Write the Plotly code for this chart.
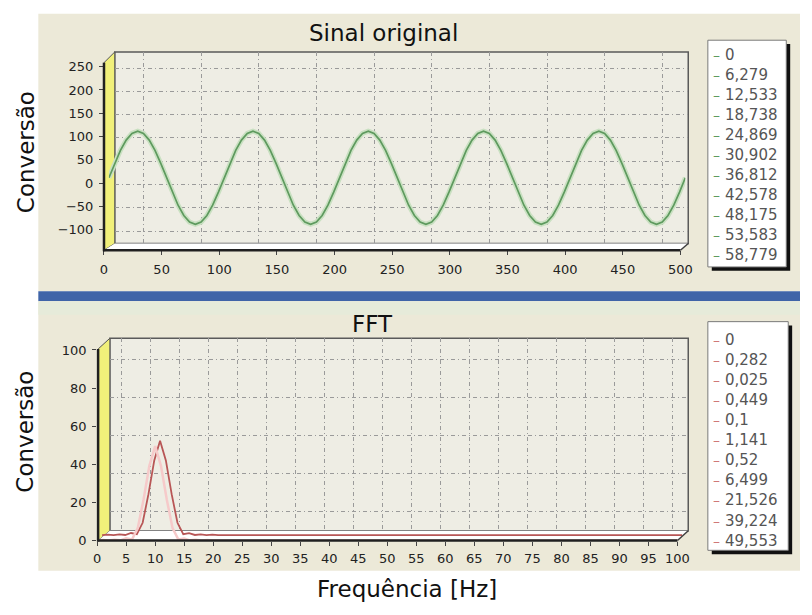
import plotly.graph_objects as go

# ---------------- data ----------------
sample_index = list(range(0, 501, 5))
signal_values = [
    0, 30.9, 58.8, 80.9, 95.1, 100, 95.1, 80.9, 58.8, 30.9,
    0, -30.9, -58.8, -80.9, -95.1, -100, -95.1, -80.9, -58.8, -30.9,
    0, 30.9, 58.8, 80.9, 95.1, 100, 95.1, 80.9, 58.8, 30.9,
    0, -30.9, -58.8, -80.9, -95.1, -100, -95.1, -80.9, -58.8, -30.9,
    0, 30.9, 58.8, 80.9, 95.1, 100, 95.1, 80.9, 58.8, 30.9,
    0, -30.9, -58.8, -80.9, -95.1, -100, -95.1, -80.9, -58.8, -30.9,
    0, 30.9, 58.8, 80.9, 95.1, 100, 95.1, 80.9, 58.8, 30.9,
    0, -30.9, -58.8, -80.9, -95.1, -100, -95.1, -80.9, -58.8, -30.9,
    0, 30.9, 58.8, 80.9, 95.1, 100, 95.1, 80.9, 58.8, 30.9,
    0, -30.9, -58.8, -80.9, -95.1, -100, -95.1, -80.9, -58.8, -30.9,
    0,
]

freq_hz = list(range(0, 101))
fft_values = [
    0, 0.282, 0.025, 0.449, 0.1, 1.141, 0.52, 6.499, 21.526, 39.224,
    49.553, 39.2, 21.5, 6.5, 0.5, 1.1, 0.1, 0.4, 0.0, 0.3,
    0, 0, 0, 0, 0, 0, 0, 0, 0, 0,
    0, 0, 0, 0, 0, 0, 0, 0, 0, 0,
    0, 0, 0, 0, 0, 0, 0, 0, 0, 0,
    0, 0, 0, 0, 0, 0, 0, 0, 0, 0,
    0, 0, 0, 0, 0, 0, 0, 0, 0, 0,
    0, 0, 0, 0, 0, 0, 0, 0, 0, 0,
    0, 0, 0, 0, 0, 0, 0, 0, 0, 0,
    0, 0, 0, 0, 0, 0, 0, 0, 0, 0,
    0,
]

legend_top = ["0", "6,279", "12,533", "18,738", "24,869", "30,902",
              "36,812", "42,578", "48,175", "53,583", "58,779"]
legend_bottom = ["0", "0,282", "0,025", "0,449", "0,1", "1,141",
                 "0,52", "6,499", "21,526", "39,224", "49,553"]

top_x_ticks = [0, 50, 100, 150, 200, 250, 300, 350, 400, 450, 500]
top_y_ticks = [-100, -50, 0, 50, 100, 150, 200, 250]
bot_x_ticks = [0, 5, 10, 15, 20, 25, 30, 35, 40, 45, 50, 55, 60, 65, 70, 75, 80, 85, 90, 95, 100]
bot_y_ticks = [0, 20, 40, 60, 80, 100]

title_top = "Sinal original"
title_bottom = "FFT"
y_title = "Conversão"
x_title = "Frequência [Hz]"

# ---------------- layout helpers ----------------
W, H = 812, 615
FONT = "DejaVu Sans"
BEIGE = "#ECE9D8"
WALL = "#EEEDE4"
YELLOW = "#F1F07A"
GREEN = "#5E9A5E"
GREEN_LIGHT = "#C9E0C1"
RED = "#B85656"
PINK = "#F6CACA"
GRID = "#9A9A9A"


def px(x):
    return x / W


def py(y):
    return 1 - y / H


def dom_x(a, b):
    return [px(a), px(b)]


def dom_y(top, bottom):
    return [py(bottom), py(top)]


def poly(points):
    return "M " + " L ".join(f"{px(x):.5f},{py(y):.5f}" for x, y in points) + " Z"


fig = go.Figure()

# top panel: back (x,y), mid/data (x2,y2), front (x3,y3)
fig.add_trace(go.Scatter(x=sample_index, y=signal_values, mode="lines",
                         line=dict(color=GREEN_LIGHT, width=5),
                         xaxis="x2", yaxis="y2", hoverinfo="skip", showlegend=False))
fig.add_trace(go.Scatter(x=sample_index, y=signal_values, mode="lines",
                         line=dict(color=GREEN, width=1.7),
                         xaxis="x2", yaxis="y2", showlegend=False))
# bottom panel: back (x4,y4), mid/data (x5,y5), front (x6,y6)
fig.add_trace(go.Scatter(x=freq_hz, y=fft_values, mode="lines",
                         line=dict(color=PINK, width=2.5),
                         xaxis="x6", yaxis="y6", hoverinfo="skip", showlegend=False))
fig.add_trace(go.Scatter(x=freq_hz, y=fft_values, mode="lines",
                         line=dict(color=RED, width=1.8),
                         xaxis="x5", yaxis="y5", showlegend=False))
# invisible traces so the grid / label axes exist
for xa, ya in (("x", "y"), ("x3", "y3"), ("x4", "y4")):
    fig.add_trace(go.Scatter(x=[None], y=[None], xaxis=xa, yaxis=ya,
                             showlegend=False, hoverinfo="skip"))

tickfont = dict(family=FONT, size=13, color="#222")
griddash = "4px,3px,1px,3px"

hidden = dict(visible=False, fixedrange=True)

layout_axes = dict(
    # ---- top back wall (grid) ----
    xaxis=dict(domain=dom_x(113, 698), range=[0, 497.4], anchor="y",
               tickvals=[25, 75, 125, 175, 225, 275, 325, 375, 425, 475],
               showticklabels=False, ticks="", showgrid=True, gridcolor=GRID,
               griddash=griddash, gridwidth=1, zeroline=False, showline=False),
    yaxis=dict(domain=dom_y(47, 243), range=[-151.4, 259.5], anchor="x",
               tickvals=[-125, -75, -25, 25, 75, 125, 175, 225],
               showticklabels=False, ticks="", showgrid=True, gridcolor=GRID,
               griddash=griddash, gridwidth=1, zeroline=False, showline=False),
    # ---- top data ----
    xaxis2=dict(domain=dom_x(107, 695), range=[0, 500], anchor="y2", **hidden),
    yaxis2=dict(domain=dom_y(47, 243), range=[-140.9, 270.0], anchor="x2", **hidden),
    # ---- top front (labels) ----
    xaxis3=dict(domain=dom_x(102, 690), range=[0, 500], anchor="y3",
                tickvals=top_x_ticks, ticks="outside", ticklen=4, tickcolor="#444",
                tickfont=tickfont, ticklabelstandoff=3, showgrid=False,
                zeroline=False, showline=False),
    yaxis3=dict(domain=dom_y(57, 250), range=[-144.0, 260.6], anchor="x3",
                tickvals=top_y_ticks, ticks="outside", ticklen=4, tickcolor="#444",
                tickfont=tickfont, ticklabelstandoff=3, showgrid=False,
                zeroline=False, showline=False),
    # ---- bottom back wall (grid) ----
    xaxis4=dict(domain=dom_x(108, 698), range=[0.507, 100.17], anchor="y4",
                tickvals=[2.5 + 5 * k for k in range(20)],
                showticklabels=False, ticks="", showgrid=True, gridcolor=GRID,
                griddash=griddash, gridwidth=1, zeroline=False, showline=False),
    yaxis4=dict(domain=dom_y(340, 537), range=[0, 101.03], anchor="x4",
                tickvals=[10, 30, 50, 70, 90],
                showticklabels=False, ticks="", showgrid=True, gridcolor=GRID,
                griddash=griddash, gridwidth=1, zeroline=False, showline=False),
    # ---- bottom data ----
    xaxis5=dict(domain=dom_x(100, 692), range=[0, 100], anchor="y5", **hidden),
    yaxis5=dict(domain=dom_y(340, 547), range=[-2.82, 103.33], anchor="x5", **hidden),
    # ---- bottom front (labels) ----
    xaxis6=dict(domain=dom_x(95, 687), range=[0, 100], anchor="y6",
                tickvals=bot_x_ticks, ticks="outside", ticklen=4, tickcolor="#444",
                tickfont=tickfont, ticklabelstandoff=2, showgrid=False,
                zeroline=False, showline=False),
    yaxis6=dict(domain=dom_y(350, 547), range=[0, 101.0], anchor="x6",
                tickvals=bot_y_ticks, ticks="outside", ticklen=4, tickcolor="#444",
                tickfont=tickfont, ticklabelstandoff=3, showgrid=False,
                zeroline=False, showline=False),
)

shapes = []


def rect(x0, y0, x1, y1, fill, line=None, lw=0, layer="below"):
    shapes.append(dict(type="rect", xref="paper", yref="paper",
                       x0=px(x0), x1=px(x1), y0=py(y1), y1=py(y0),
                       fillcolor=fill, line=dict(color=line or fill, width=lw),
                       layer=layer))


def path(points, fill, line="rgba(0,0,0,0)", lw=0, layer="below"):
    shapes.append(dict(type="path", xref="paper", yref="paper", path=poly(points),
                       fillcolor=fill, line=dict(color=line, width=lw), layer=layer))


def seg(x0, y0, x1, y1, color, lw, layer="above"):
    shapes.append(dict(type="line", xref="paper", yref="paper",
                       x0=px(x0), y0=py(y0), x1=px(x1), y1=py(y1),
                       line=dict(color=color, width=lw), layer=layer))


# panels
rect(35, 8, 812, 292, BEIGE)
rect(35, 292, 812, 302, "#3F64A8")
rect(35, 302, 812, 578, BEIGE)
rect(35, 302, 812, 316, "#E6EBDA")

# ---- top 3D box ----
rect(113, 47, 698, 243, WALL, "#5A5A5A", 1.5)
path([(102, 58), (113, 47), (113, 243), (102, 250)], YELLOW, "#555555", 1)
path([(102, 250), (113, 243), (698, 243), (690, 250)], "#FFFFFF")
seg(102, 58, 102, 251, "#202020", 2.5)
seg(101, 250, 690, 250, "#202020", 2.5)
seg(690, 250, 698, 243, "#404040", 1.5)

# ---- bottom 3D box ----
rect(108, 340, 698, 537, WALL, "#5A5A5A", 1.5)
path([(96, 351), (108, 340), (108, 537), (96, 547)], YELLOW, "#555555", 1)
path([(96, 547), (108, 537), (698, 537), (687, 547)], "#FFFFFF")
seg(96, 351, 96, 548, "#202020", 2.5)
seg(95, 547, 687, 547, "#202020", 2.5)
seg(687, 547, 698, 537, "#404040", 1.5)

# ---- legend boxes ----
rect(722, 39, 802, 271, "#111111", layer="below")
rect(718, 35, 798, 267, "#FFFFFF", "#7A7A7A", 1, layer="below")
rect(722, 327, 804, 561, "#111111", layer="below")
rect(718, 323, 800, 557, "#FFFFFF", "#7A7A7A", 1, layer="below")

annotations = []


def text(x, y, s, size, color="#111", xanchor="center", angle=0, yanchor="middle"):
    annotations.append(dict(x=px(x), y=py(y), xref="paper", yref="paper", text=s,
                            showarrow=False, xanchor=xanchor, yanchor=yanchor,
                            textangle=angle,
                            font=dict(family=FONT, size=size, color=color)))


text(387, 28, title_top, 23)
text(376, 325, title_bottom, 23)
text(22, 150, y_title, 23, angle=-90)
text(22, 436, y_title, 23, angle=-90)
text(411, 597, x_title, 23)

for i, s in enumerate(legend_top):
    yy = 50 + 20.5 * i
    text(721, yy, "–", 14, color=GREEN, xanchor="left")
    text(733, yy, s, 15, color="#555555", xanchor="left")
for i, s in enumerate(legend_bottom):
    yy = 342 + 20.5 * i
    text(721, yy, "–", 14, color="#D07878", xanchor="left")
    text(733, yy, s, 15, color="#555555", xanchor="left")

fig.update_layout(
    width=W, height=H, margin=dict(l=0, r=0, t=0, b=0),
    paper_bgcolor="#FFFFFF", plot_bgcolor="rgba(0,0,0,0)",
    showlegend=False, shapes=shapes, annotations=annotations,
    font=dict(family=FONT), hovermode=False,
    **layout_axes,
)

fig.write_html("out.html", config={"displayModeBar": False},
               post_script="document.body.style.margin='0';document.body.style.overflow='hidden';")
